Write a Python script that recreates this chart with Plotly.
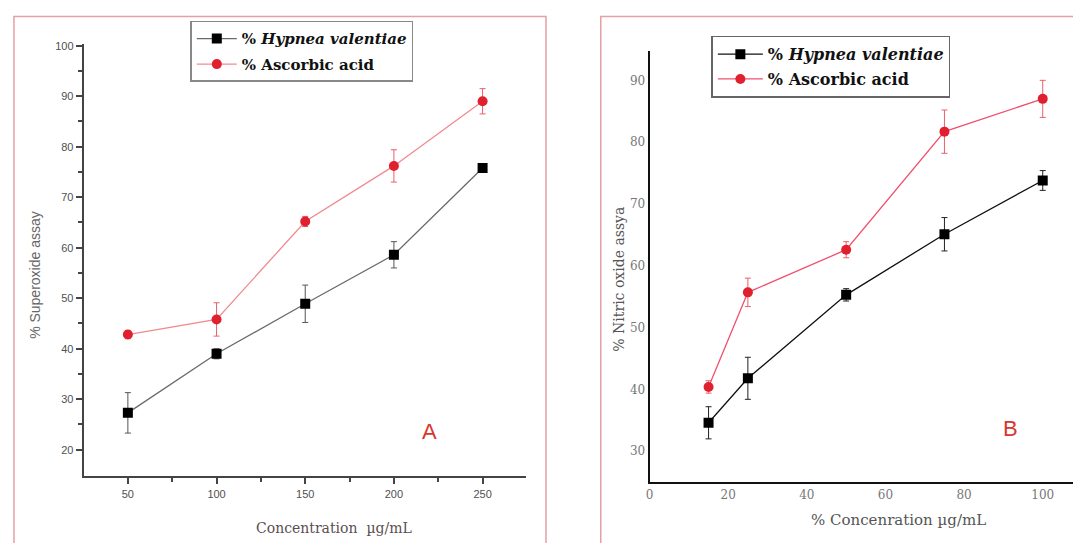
import plotly.graph_objects as go

# ---- data ----
conc_a = [50, 100, 150, 200, 250]
hyp_a = [27.3, 39.0, 48.9, 58.6, 75.8]
hyp_a_err = [4.0, 1.0, 3.7, 2.6, 0.8]
asc_a = [42.8, 45.8, 65.2, 76.2, 89.0]
asc_a_err = [0.8, 3.3, 1.0, 3.2, 2.5]

conc_b = [15, 25, 50, 75, 100]
hyp_b = [34.6, 41.8, 55.3, 65.1, 73.8]
hyp_b_err = [2.6, 3.4, 1.0, 2.7, 1.6]
asc_b = [40.4, 55.7, 62.6, 81.7, 87.0]
asc_b_err = [1.0, 2.3, 1.3, 3.5, 3.0]

name_hyp = "% <i>Hypnea valentiae</i>"
name_asc = "% Ascorbic acid"

W, H = 1073, 543
def px(x):
    return x / W
def py(y):
    return 1 - y / H

fig = go.Figure()

# Panel A
fig.add_trace(go.Scatter(
    x=conc_a, y=hyp_a, name=name_hyp, mode="lines+markers",
    line=dict(color="#6a6a6a", width=1.3),
    marker=dict(symbol="square", size=10, color="black"),
    error_y=dict(type="data", array=hyp_a_err, color="#555555", thickness=1, width=3),
    xaxis="x", yaxis="y", legend="legend", legendgroup="a1"))
fig.add_trace(go.Scatter(
    x=conc_a, y=asc_a, name=name_asc, mode="lines+markers",
    line=dict(color="#f08a90", width=1.3),
    marker=dict(symbol="circle", size=10, color="#e0202e"),
    error_y=dict(type="data", array=asc_a_err, color="#e8606a", thickness=1, width=3),
    xaxis="x", yaxis="y", legend="legend", legendgroup="a2"))

# Panel B
fig.add_trace(go.Scatter(
    x=conc_b, y=hyp_b, name=name_hyp, mode="lines+markers",
    line=dict(color="#111111", width=1.3),
    marker=dict(symbol="square", size=10, color="black"),
    error_y=dict(type="data", array=hyp_b_err, color="#222222", thickness=1, width=3),
    xaxis="x2", yaxis="y2", legend="legend2", legendgroup="b1"))
fig.add_trace(go.Scatter(
    x=conc_b, y=asc_b, name=name_asc, mode="lines+markers",
    line=dict(color="#f0506e", width=1.3),
    marker=dict(symbol="circle", size=10, color="#e0202e"),
    error_y=dict(type="data", array=asc_b_err, color="#e8606a", thickness=1, width=3),
    xaxis="x2", yaxis="y2", legend="legend2", legendgroup="b2"))

tick_a = dict(family="Liberation Sans, Arial, sans-serif", size=11, color="#505050")
tick_b = dict(family="DejaVu Serif, serif", size=12, color="#777777")
leg_font_a = dict(family="DejaVu Serif, serif", size=15, color="#111111", weight="bold")
leg_font_b = dict(family="DejaVu Serif, serif", size=16, color="#111111", weight="bold")

fig.update_layout(
    width=W, height=H,
    margin=dict(l=0, r=0, t=0, b=0),
    paper_bgcolor="white", plot_bgcolor="white",
    xaxis=dict(domain=[px(80), px(524)], range=[25.1, 274.5], anchor="y",
               tickvals=[50, 100, 150, 200, 250], ticks="outside", ticklen=6,
               tickcolor="#444444", tickwidth=1.5,
               minor=dict(tickvals=[75, 125, 175, 225], ticks="outside", ticklen=4,
                          tickcolor="#444444"),
               showline=True, linecolor="#444444", linewidth=2,
               showgrid=False, zeroline=False, tickfont=tick_a),
    yaxis=dict(domain=[py(476), py(40)], range=[14.7, 100.4], anchor="x",
               tickvals=[20, 30, 40, 50, 60, 70, 80, 90, 100], ticks="outside", ticklen=6,
               tickcolor="#444444", tickwidth=1.5,
               minor=dict(tickvals=[25, 35, 45, 55, 65, 75, 85, 95], ticks="outside",
                          ticklen=4, tickcolor="#444444"),
               showline=True, linecolor="#444444", linewidth=2,
               showgrid=False, zeroline=False, tickfont=tick_a),
    xaxis2=dict(domain=[px(648), 1.0], range=[0, 107.7], anchor="y2",
                tickvals=[0, 20, 40, 60, 80, 100], ticks="", ticklen=0,
                showline=True, linecolor="#111111", linewidth=2,
                showgrid=False, zeroline=False, tickfont=tick_b),
    yaxis2=dict(domain=[py(481.7), py(47)], range=[25.0, 94.8], anchor="x2",
                tickvals=[30, 40, 50, 60, 70, 80, 90], ticks="", ticklen=0,
                ticklabelstandoff=0,
                showline=True, linecolor="#111111", linewidth=2,
                showgrid=False, zeroline=False, tickfont=tick_b),
    legend=dict(x=px(187), y=py(17), xanchor="left", yanchor="top",
                bgcolor="white", bordercolor="#888888", borderwidth=1.5,
                font=leg_font_a, traceorder="grouped", tracegroupgap=3,
                itemwidth=40),
    legend2=dict(x=px(710), y=py(32), xanchor="left", yanchor="top",
                 bgcolor="white", bordercolor="#666666", borderwidth=1.5,
                 font=leg_font_b, traceorder="grouped", tracegroupgap=1,
                 itemwidth=45),
    showlegend=True,
)

# panel borders
fig.add_shape(type="rect", xref="paper", yref="paper",
              x0=px(10), x1=px(544), y0=py(560), y1=py(12.5),
              line=dict(color="#e4a0a4", width=1.5), layer="below")
fig.add_shape(type="rect", xref="paper", yref="paper",
              x0=px(599), x1=px(1090), y0=py(560), y1=py(12.5),
              line=dict(color="#e4a0a4", width=1.5), layer="below")

def ann(x, y, text, font, angle=0):
    fig.add_annotation(x=px(x), y=py(y), xref="paper", yref="paper",
                       xanchor="center", yanchor="middle",
                       text=text, textangle=angle, showarrow=False, font=font)

ann(31, 273, "% Superoxide assay",
    dict(family="Liberation Sans, Arial, sans-serif", size=14, color="#666666"), -90)
ann(331, 528, "Concentration&nbsp;&nbsp;µg/mL",
    dict(family="DejaVu Serif, serif", size=14, color="#5a5050"))
ann(617, 277, "% Nitric oxide assya",
    dict(family="DejaVu Serif, serif", size=14, color="#555555"), -90)
ann(898, 520, "% Concenration µg/mL",
    dict(family="DejaVu Serif, serif", size=15, color="#555555"))
ann(427, 431, "A", dict(family="Liberation Sans, Arial, sans-serif", size=22, color="#d8362e"))
ann(1010, 428, "B", dict(family="Liberation Sans, Arial, sans-serif", size=22, color="#d8362e"))

fig.write_html("out.html", config={"displayModeBar": False},
               post_script="document.body.style.margin='0';document.body.style.padding='0';")
